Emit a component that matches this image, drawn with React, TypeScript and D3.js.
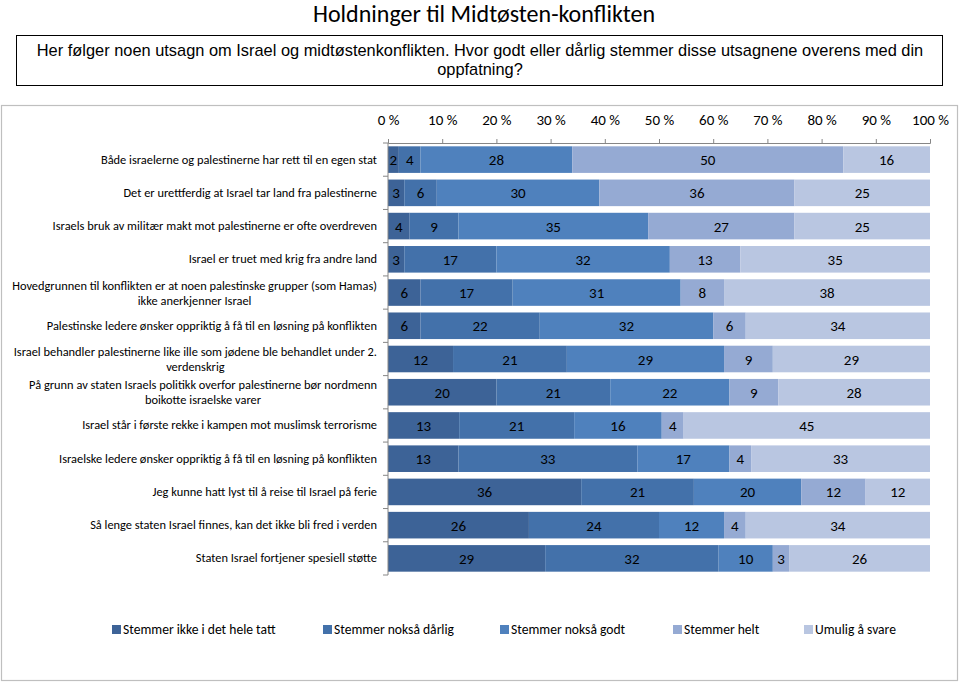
import React, { useEffect, useRef } from "react";
import * as d3 from "d3";

const categories: string[][] = [
  ["Både israelerne og palestinerne har rett til en egen stat"],
  ["Det er urettferdig at Israel tar land fra palestinerne"],
  ["Israels bruk av militær makt mot palestinerne er ofte overdreven"],
  ["Israel er truet med krig fra andre land"],
  ["Hovedgrunnen til konflikten er at noen palestinske grupper (som Hamas)", "ikke anerkjenner Israel"],
  ["Palestinske ledere ønsker oppriktig å få til en løsning på konflikten"],
  ["Israel behandler palestinerne like ille som jødene ble behandlet under 2.", "verdenskrig"],
  ["På grunn av staten Israels politikk overfor palestinerne bør nordmenn", "boikotte israelske varer"],
  ["Israel står i første rekke i kampen mot muslimsk terrorisme"],
  ["Israelske ledere ønsker oppriktig å få til en løsning på konflikten"],
  ["Jeg kunne hatt lyst til å reise til Israel på ferie"],
  ["Så lenge staten Israel finnes, kan det ikke bli fred i verden"],
  ["Staten Israel fortjener spesiell støtte"],
];

const seriesNames = [
  "Stemmer ikke i det hele tatt",
  "Stemmer nokså dårlig",
  "Stemmer nokså godt",
  "Stemmer helt",
  "Umulig å svare",
];

const ikkeIDetHele = [2, 3, 4, 3, 6, 6, 12, 20, 13, 13, 36, 26, 29];
const noksaDarlig = [4, 6, 9, 17, 17, 22, 21, 21, 21, 33, 21, 24, 32];
const noksaGodt = [28, 30, 35, 32, 31, 32, 29, 22, 16, 17, 20, 12, 10];
const helt = [50, 36, 27, 13, 8, 6, 9, 9, 4, 4, 12, 4, 3];
const umulig = [16, 25, 25, 35, 38, 34, 29, 28, 45, 33, 12, 34, 26];

const seriesValues = [ikkeIDetHele, noksaDarlig, noksaGodt, helt, umulig];
const colors = ["#3D6397", "#4371AA", "#4F81BD", "#95AAD3", "#B9C6E1"];
const xTicks = [0, 10, 20, 30, 40, 50, 60, 70, 80, 90, 100];
const legendX = [112, 323, 500, 673, 804];

const FONT = "Carlito, Lato, sans-serif";

export default function App() {
  const ref = useRef<SVGSVGElement>(null);

  useEffect(() => {
    const svg = d3.select(ref.current);
    svg.selectAll("*").remove();

    const x = d3.scaleLinear().domain([0, 100]).range([388, 930]);
    const idx = categories.map((_, i) => i);
    const y = d3
      .scaleBand<number>()
      .domain(idx)
      .range([143, 575])
      .paddingInner(0.2)
      .paddingOuter(0.1);

    // Title
    svg
      .append("text")
      .attr("x", 484)
      .attr("y", 22)
      .attr("text-anchor", "middle")
      .attr("font-family", FONT)
      .attr("font-size", 24)
      .attr("fill", "#000")
      .text("Holdninger til Midtøsten-konflikten");

    // Question box
    svg
      .append("rect")
      .attr("x", 16.5)
      .attr("y", 35.5)
      .attr("width", 926)
      .attr("height", 50)
      .attr("fill", "#fff")
      .attr("stroke", "#000")
      .attr("stroke-width", 1);
    const q = svg
      .append("text")
      .attr("text-anchor", "middle")
      .attr("font-family", "'Liberation Sans', Arial, sans-serif")
      .attr("font-size", 16.4)
      .attr("fill", "#000");
    q.append("tspan")
      .attr("x", 480)
      .attr("y", 56)
      .text(
        "Her følger noen utsagn om Israel og midtøstenkonflikten. Hvor godt eller dårlig stemmer disse utsagnene overens med din"
      );
    q.append("tspan").attr("x", 480).attr("y", 75).text("oppfatning?");

    // Chart frame
    svg
      .append("rect")
      .attr("x", 1.5)
      .attr("y", 105.5)
      .attr("width", 956)
      .attr("height", 575)
      .attr("fill", "#fff")
      .attr("stroke", "#BFBFBF")
      .attr("stroke-width", 1.2);

    // Bars
    const totals = idx.map((i) => d3.sum(seriesValues, (s) => s[i]));
    const g = svg.append("g");
    idx.forEach((i) => {
      let acc = 0;
      seriesValues.forEach((s, k) => {
        const v = s[i];
        const x0 = x((acc / totals[i]) * 100);
        const x1 = x(((acc + v) / totals[i]) * 100);
        acc += v;
        g.append("rect")
          .attr("x", x0)
          .attr("y", y(i)!)
          .attr("width", x1 - x0)
          .attr("height", y.bandwidth())
          .attr("fill", colors[k]);
        g.append("text")
          .attr("x", (x0 + x1) / 2)
          .attr("y", y(i)! + y.bandwidth() / 2 + 5.5)
          .attr("text-anchor", "middle")
          .attr("font-family", FONT)
          .attr("font-size", 15)
          .attr("fill", "#000")
          .text(String(v));
      });
    });

    // Top axis
    const axis = svg
      .append("g")
      .attr("transform", "translate(0,143)")
      .call(
        d3
          .axisTop(x)
          .tickValues(xTicks)
          .tickSize(4)
          .tickPadding(14)
          .tickFormat((d) => `${d} %`)
      );
    axis.select(".domain").attr("stroke", "#868686");
    axis.selectAll(".tick line").attr("stroke", "#868686");
    axis
      .selectAll(".tick text")
      .attr("font-family", FONT)
      .attr("font-size", 15)
      .attr("fill", "#000");

    // Left category axis
    const left = svg.append("g");
    left
      .append("line")
      .attr("x1", 388)
      .attr("x2", 388)
      .attr("y1", 143)
      .attr("y2", 575)
      .attr("stroke", "#868686");
    d3.range(categories.length + 1).forEach((j) => {
      const yc = 143 + j * (432 / categories.length);
      left
        .append("line")
        .attr("x1", 383)
        .attr("x2", 388)
        .attr("y1", yc)
        .attr("y2", yc)
        .attr("stroke", "#868686");
    });

    // Category labels
    idx.forEach((i) => {
      const lines = categories[i];
      const cy = y(i)! + y.bandwidth() / 2;
      if (lines.length === 1) {
        svg
          .append("text")
          .attr("x", 377)
          .attr("y", cy + 4)
          .attr("text-anchor", "end")
          .attr("font-family", FONT)
          .attr("font-size", 12.4)
          .attr("fill", "#000")
          .text(lines[0]);
      } else {
        const t = svg
          .append("text")
          .attr("font-family", FONT)
          .attr("font-size", 12.4)
          .attr("fill", "#000")
          .attr("text-anchor", "middle");
        const t1 = t.append("tspan").attr("y", cy - 3).text(lines[0]);
        const w = (t1.node() as SVGTSpanElement).getComputedTextLength();
        const cx = 377 - w / 2;
        t1.attr("x", cx);
        t.append("tspan").attr("x", cx).attr("y", cy + 12).text(lines[1]);
      }
    });

    // Legend
    seriesNames.forEach((name, k) => {
      svg
        .append("rect")
        .attr("x", legendX[k])
        .attr("y", 625)
        .attr("width", 9)
        .attr("height", 9)
        .attr("fill", colors[k]);
      svg
        .append("text")
        .attr("x", legendX[k] + 11)
        .attr("y", 634)
        .attr("font-family", FONT)
        .attr("font-size", 13.6)
        .attr("fill", "#000")
        .text(name);
    });
  }, []);

  return (
    <div style={{ position: "absolute", left: 0, top: 0 }}>
      <svg ref={ref} width={960} height={683} style={{ display: "block", background: "#fff" }} />
    </div>
  );
}
